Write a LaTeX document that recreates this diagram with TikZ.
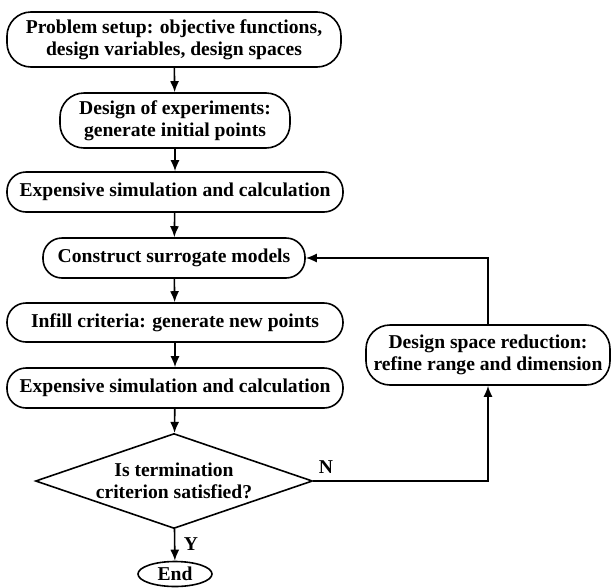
\documentclass[tikz,border=0pt]{standalone}
\usepackage{fontspec}
\setmainfont{Liberation Serif}
\usetikzlibrary{shapes.geometric,arrows.meta}
\begin{document}
\begin{tikzpicture}[x=1pt,y=-1pt,
  txt/.style={font=\fontsize{19.6}{22}\selectfont\bfseries},
  box/.style={draw,line width=1.6pt,rounded corners=19pt,align=center,inner sep=0pt,txt},
  tall/.style={rounded corners=24pt},
  arr/.style={line width=1.6pt,-{Latex[length=11pt,width=9pt]}},
  lbl/.style={txt,inner sep=0pt}]
\useasboundingbox (0,0) rectangle (611,587);
\node[box,tall,minimum width=334pt,minimum height=55pt] (b1) at (174,39.5) {Problem setup: objective functions,\\design variables, design spaces};
\node[box,tall,minimum width=230pt,minimum height=55pt] (b2) at (175,120.5) {Design of experiments:\\generate initial points};
\node[box,minimum width=336pt,minimum height=40pt] (b3) at (175,192) {Expensive simulation and calculation};
\node[box,minimum width=262pt,minimum height=40pt] (b4) at (174,258) {Construct surrogate models};
\node[box,minimum width=336pt,minimum height=39pt] (b5) at (175,322.5) {Infill criteria: generate new points};
\node[box,minimum width=336pt,minimum height=40pt] (b6) at (175,388) {Expensive simulation and calculation};
\node[draw,line width=1.6pt,shape=diamond,minimum width=277pt,minimum height=95pt,inner sep=0pt] (dia) at (174,481) {};
\node[lbl,align=center] (diat) at (dia.center) {Is termination\\criterion satisfied?};
\node[draw,line width=1.6pt,ellipse,minimum width=74pt,minimum height=25pt,inner sep=0pt,txt] (end) at (175,574) {End};
\node[box,tall,minimum width=244pt,minimum height=60pt] (red) at (488,355) {Design space reduction:\\refine range and dimension};
\draw[arr] (b1) -- (b2);
\draw[arr] (b2) -- (b3);
\draw[arr] (b3) -- (b4);
\draw[arr] (b4) -- (b5);
\draw[arr] (b5) -- (b6);
\draw[arr] (b6) -- (dia);
\draw[arr] (dia) -- (end);
\draw[arr] (dia.east) -| (red.south);
\draw[arr] (red.north) |- (b4.east);
\node[lbl] (nl) at (326,467) {N};
\node[lbl] (yl) at (191,544) {Y};
\end{tikzpicture}
\end{document}
